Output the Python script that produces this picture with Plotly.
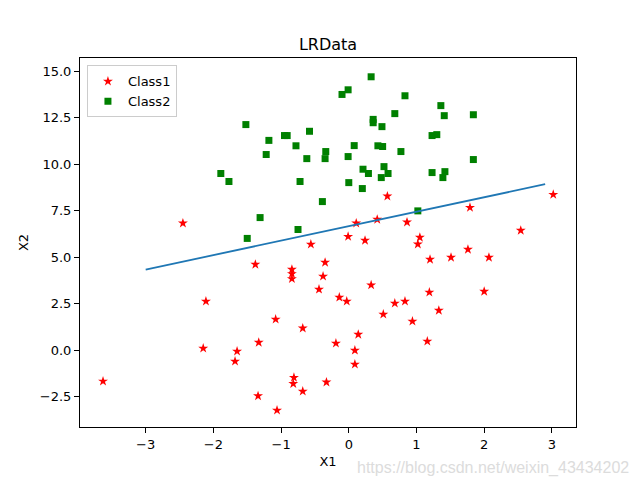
import numpy as np
import plotly.graph_objects as go

# Class1 (red stars)
class1_x = [-2.45, -0.56, 0.57, 3.02, 1.79, 0.11, 0.42, 0.86, 2.54, -0.01, 0.24, 1.05, 1.02,
            -0.35, 1.20, 1.51, 1.76, 2.07, 0.33, -0.14, -0.03, 1.19, 2.00, 0.68, 0.83, 0.51,
            1.33, 0.94, -0.19, 0.14, 0.09, 0.09, 1.16, -0.33, -1.38, -0.84, -0.84, -0.84,
            -0.38, -0.44, -2.11, -1.08, -0.68, -2.15, -1.65, -1.68, -1.33, -3.63, -0.81,
            -0.82, -0.68, -1.34, -1.06]
class1_y = [6.84, 5.70, 8.29, 8.38, 7.68, 6.84, 7.04, 6.89, 6.45, 6.12, 5.91, 6.07, 5.71,
            4.73, 4.89, 5.00, 5.43, 5.00, 3.51, 2.85, 2.64, 3.12, 3.17, 2.53, 2.64, 1.94,
            2.15, 1.56, 0.38, 0.86, 0.00, -0.75, 0.49, -1.71, 4.62, 4.35, 4.12, 3.85,
            3.98, 3.28, 2.64, 1.67, 1.19, 0.11, -0.05, -0.59, 0.43, -1.66, -1.46,
            -1.79, -2.20, -2.45, -3.22]

# Class2 (green squares)
class2_x = [-1.52, -1.18, -0.95, -0.91, -0.58, -0.78, -1.22, -0.62, -0.34, -0.35, -1.89,
            -1.77, -0.72, -0.39, -1.31, -0.75, -1.50, 0.33, -0.10, -0.01, 0.83, 1.36, 1.41,
            1.84, 0.68, 0.36, 0.36, 0.49, 1.23, 1.30, 0.08, 0.43, 0.50, 0.77, -0.01, 1.84,
            0.21, 0.29, 0.52, 0.58, 0.48, 1.23, 1.42, 1.39, 0.00, 0.20, 1.02]
class2_y = [12.14, 11.29, 11.55, 11.55, 11.78, 11.00, 10.53, 10.31, 10.69, 10.31, 9.51,
            9.08, 9.08, 8.00, 7.14, 6.50, 6.02, 14.71, 13.76, 14.01, 13.69, 13.16, 12.62,
            12.67, 12.73, 12.42, 12.24, 12.03, 11.55, 11.60, 11.01, 11.00, 10.96, 10.69, 10.42, 10.26,
            9.74, 9.51, 9.88, 9.51, 9.29, 9.56, 9.61, 9.29, 9.02, 8.70, 7.50]

# Logistic regression weights (decision boundary)
weights = [4.12, 0.48, -0.617]
line_x = np.arange(-3.0, 3.0, 0.1)
line_y = (-weights[0] - weights[1] * line_x) / weights[2]

x_ticks = [-3, -2, -1, 0, 1, 2, 3]
x_tick_labels = ["\u22123", "\u22122", "\u22121", "0", "1", "2", "3"]
y_ticks = [-2.5, 0.0, 2.5, 5.0, 7.5, 10.0, 12.5, 15.0]
y_tick_labels = ["\u22122.5", "0.0", "2.5", "5.0", "7.5", "10.0", "12.5", "15.0"]

font = "DejaVu Sans"

fig = go.Figure()
fig.add_trace(go.Scatter(x=class1_x, y=class1_y, mode="markers", name="Class1",
                         marker=dict(symbol="star", color="red", size=7.5, line=dict(width=0))))
fig.add_trace(go.Scatter(x=class2_x, y=class2_y, mode="markers", name="Class2",
                         marker=dict(symbol="square", color="green", size=7, line=dict(width=0))))
fig.add_trace(go.Scatter(x=line_x, y=line_y, mode="lines", showlegend=False,
                         line=dict(color="#1f77b4", width=1.8)))

axis_common = dict(showline=True, linecolor="black", linewidth=1, mirror=True,
                   ticks="outside", ticklen=5, tickcolor="black", showgrid=False,
                   zeroline=False, tickfont=dict(family=font, size=13, color="black"))

fig.update_layout(
    width=640, height=480,
    margin=dict(l=80, r=64, t=58, b=53),
    paper_bgcolor="white", plot_bgcolor="white",
    font=dict(family=font, color="black"),
    title=dict(text="LRData", x=0.5125, xanchor="center", y=1 - 44 / 480, yanchor="middle",
               font=dict(family=font, size=16, color="black")),
    xaxis=dict(range=[-3.97, 3.356], tickvals=x_ticks, ticktext=x_tick_labels,
               title=dict(text="X1", font=dict(family=font, size=13), standoff=6), **axis_common),
    yaxis=dict(range=[-4.12, 15.72], tickvals=y_ticks, ticktext=y_tick_labels,
               title=dict(text="X2", font=dict(family=font, size=13), standoff=8), **axis_common),
    legend=dict(x=0.014, y=0.98, xanchor="left", yanchor="top",
                bgcolor="rgba(255,255,255,0.8)", bordercolor="#cccccc", borderwidth=1,
                font=dict(family=font, size=13), itemwidth=30, tracegroupgap=0),
    showlegend=True,
    annotations=[dict(text="https://blog.csdn.net/weixin_43434202", xref="paper", yref="paper",
                      x=1.11, y=-0.11, xanchor="right", yanchor="middle", showarrow=False,
                      font=dict(family="Liberation Sans", size=16, color="#dcdcdc"))],
)

fig.write_html("out.html", config={"displayModeBar": False},
               post_script="document.body.style.margin='0';document.body.style.padding='0';")
